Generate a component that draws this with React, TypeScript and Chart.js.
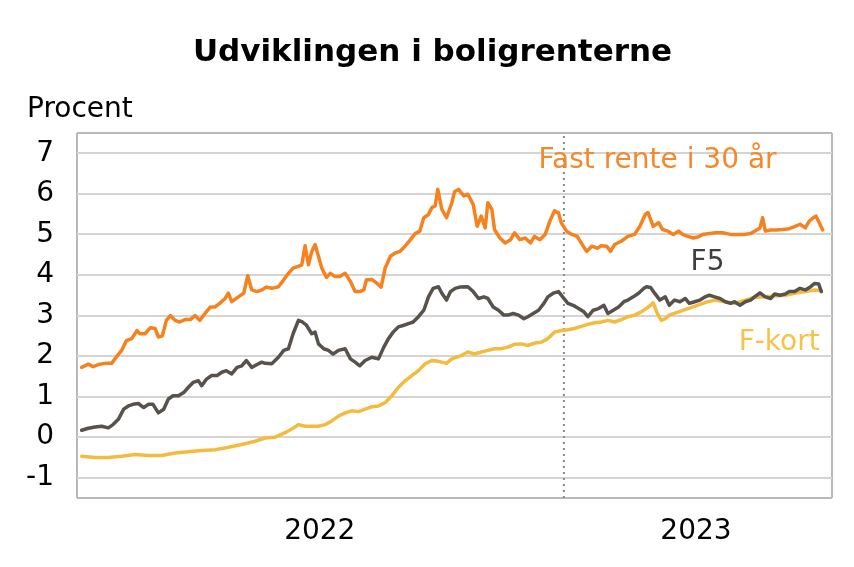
import { useEffect, useRef } from 'react';
import { Chart, registerables } from 'chart.js';

Chart.register(...registerables);
Chart.defaults.font.family = '"DejaVu Sans", sans-serif';

const TITLE = 'Udviklingen i boligrenterne';
const Y_UNIT = 'Procent';
const YEAR_LABELS = ['2022', '2023'];
const YEAR_LABEL_DAYS = [182, 464];
const YEAR_BOUNDARY_DAY = 365;
const X_MIN_DAY = 0;
const X_MAX_DAY = 566;
const Y_TICKS = [-1, 0, 1, 2, 3, 4, 5, 6, 7];
const Y_MIN = -1.5;
const Y_MAX = 7.5;

// Days since 1 Jan 2022
const fastDays = [3.5, 8.5, 12, 16, 21, 26, 30, 33.5, 37, 41, 45, 47, 51, 55, 58.5, 61, 64, 67, 70, 73.5, 77, 81, 85, 88.5, 92, 96, 100, 103.5, 107, 111, 113.5, 116, 121, 125, 128, 131, 135, 138.5, 142, 146, 151, 155, 158.5, 162, 166, 168.5, 171, 173.5, 176, 178.5, 181, 183.5, 187, 190, 193.5, 197, 201, 205, 208.5, 212, 215, 217, 221, 225, 228, 231, 235, 238.5, 242, 246, 250, 253.5, 257, 260, 263.5, 266, 268.5, 270.5, 273.5, 277, 281, 283, 286, 290, 293, 297, 300, 303, 306, 308, 311, 313, 317, 321, 325, 328, 332, 336, 340, 343, 347, 351, 355, 358, 361, 363, 367, 371, 375, 378, 382, 386, 390, 393, 397, 400, 403, 408, 413, 418, 422, 426, 428, 432, 436, 439, 443, 447, 451, 454, 458, 462, 466, 469, 474, 479, 484, 490, 495, 500, 505, 508, 512, 514, 516, 520, 524, 529, 534, 538, 542, 546, 549, 552, 554, 557, 559];
const fastRates = [1.72, 1.8, 1.74, 1.79, 1.82, 1.82, 2.0, 2.14, 2.38, 2.43, 2.63, 2.55, 2.55, 2.7, 2.68, 2.47, 2.5, 2.88, 3.0, 2.88, 2.84, 2.9, 2.9, 3.0, 2.88, 3.05, 3.21, 3.21, 3.3, 3.42, 3.55, 3.34, 3.46, 3.55, 3.98, 3.63, 3.59, 3.63, 3.7, 3.67, 3.71, 3.88, 4.04, 4.17, 4.21, 4.25, 4.72, 4.25, 4.58, 4.75, 4.46, 4.17, 3.94, 4.04, 3.96, 3.96, 4.04, 3.84, 3.59, 3.59, 3.63, 3.88, 3.89, 3.79, 3.7, 4.17, 4.46, 4.54, 4.58, 4.71, 4.87, 5.02, 5.08, 5.41, 5.49, 5.66, 5.7, 6.11, 5.62, 5.41, 5.78, 6.05, 6.11, 5.95, 5.99, 5.74, 5.2, 5.45, 5.16, 5.78, 5.62, 5.12, 4.91, 4.79, 4.87, 5.04, 4.87, 4.91, 4.79, 4.95, 4.87, 5.0, 5.37, 5.58, 5.53, 5.29, 5.08, 5.0, 4.95, 4.79, 4.58, 4.71, 4.66, 4.72, 4.71, 4.58, 4.75, 4.83, 4.95, 5.0, 5.2, 5.49, 5.54, 5.2, 5.29, 5.12, 5.08, 5.0, 5.08, 5.0, 4.95, 4.91, 4.94, 5.0, 5.02, 5.04, 5.04, 5.0, 5.0, 5.0, 5.02, 5.08, 5.16, 5.41, 5.08, 5.11, 5.11, 5.12, 5.14, 5.19, 5.25, 5.16, 5.33, 5.41, 5.45, 5.25, 5.11];

const f5Days = [3.5, 8.5, 13.5, 18.5, 23.5, 27, 31, 35, 38.5, 42, 46, 50, 53.5, 57, 61, 65, 68.5, 72, 76, 80, 83.5, 87, 91, 93.5, 97, 101, 105, 108.5, 112, 116, 120, 123.5, 127, 131, 135, 138.5, 141, 146, 151, 155, 158.5, 162, 166, 169, 172, 176, 178.5, 181, 185, 188.5, 192, 196, 201, 205, 208.5, 212, 216, 221, 226, 230, 233.5, 237, 241, 245, 248.5, 252, 256, 260, 263.5, 267, 271, 273.5, 277, 280, 283.5, 287, 293, 297, 301, 305, 308, 312, 316, 320, 323, 327, 331, 335, 338, 342, 346, 350, 353, 357, 361, 365, 368, 372, 376, 380, 383, 387, 391, 395, 398, 402, 406, 410, 413, 417, 421, 425, 427, 430, 433, 437, 441, 444, 448, 452, 456, 459, 463, 467, 471, 474, 478, 482, 486, 490, 493, 497, 501, 505, 508, 512, 516, 520, 523, 527, 531, 534, 538, 542, 546, 550, 553, 556, 558];
const f5Rates = [0.17, 0.22, 0.25, 0.27, 0.23, 0.31, 0.44, 0.69, 0.77, 0.81, 0.83, 0.73, 0.81, 0.81, 0.6, 0.69, 0.94, 1.02, 1.02, 1.1, 1.23, 1.35, 1.39, 1.27, 1.43, 1.52, 1.52, 1.6, 1.64, 1.56, 1.72, 1.76, 1.89, 1.72, 1.79, 1.85, 1.82, 1.81, 1.97, 2.14, 2.18, 2.55, 2.88, 2.84, 2.76, 2.55, 2.59, 2.3, 2.18, 2.14, 2.05, 2.14, 2.18, 1.93, 1.85, 1.76, 1.89, 1.97, 1.93, 2.22, 2.43, 2.59, 2.72, 2.76, 2.8, 2.84, 2.97, 3.13, 3.46, 3.67, 3.71, 3.55, 3.38, 3.59, 3.67, 3.7, 3.71, 3.59, 3.42, 3.46, 3.42, 3.21, 3.13, 3.01, 3.01, 3.05, 3.01, 2.92, 2.97, 3.05, 3.13, 3.3, 3.46, 3.55, 3.59, 3.42, 3.3, 3.25, 3.17, 3.09, 2.97, 3.13, 3.17, 3.25, 3.05, 3.13, 3.21, 3.34, 3.38, 3.46, 3.55, 3.67, 3.71, 3.69, 3.55, 3.38, 3.46, 3.25, 3.38, 3.34, 3.42, 3.3, 3.34, 3.38, 3.46, 3.5, 3.46, 3.42, 3.34, 3.3, 3.34, 3.25, 3.34, 3.38, 3.46, 3.56, 3.46, 3.42, 3.53, 3.5, 3.53, 3.59, 3.59, 3.67, 3.63, 3.71, 3.79, 3.78, 3.59];

const fkortDays = [3.5, 13.5, 23.5, 33.5, 43.5, 53.5, 63.5, 73.5, 83.5, 93.5, 103.5, 113.5, 123.5, 133.5, 141, 148.5, 156, 162, 166, 171, 176, 181, 186, 191, 196, 201, 206, 211, 216, 221, 226, 231, 236, 241, 246, 251, 256, 261, 266, 271, 277, 281, 288, 293, 298, 303, 308, 313, 318, 323, 328, 333, 338, 343, 348, 353, 358, 363, 368, 373, 378, 383, 388, 393, 398, 403, 408, 413, 418, 423, 428, 432, 435, 438, 441, 444, 451, 458, 466, 473, 478, 486, 493, 501, 508, 516, 523, 531, 538, 546, 553, 558];
const fkortRates = [-0.47, -0.5, -0.5, -0.47, -0.43, -0.45, -0.45, -0.39, -0.36, -0.33, -0.31, -0.25, -0.18, -0.1, -0.02, 0, 0.11, 0.22, 0.31, 0.27, 0.27, 0.27, 0.31, 0.4, 0.52, 0.6, 0.65, 0.63, 0.69, 0.75, 0.77, 0.85, 1.02, 1.23, 1.39, 1.52, 1.64, 1.81, 1.89, 1.87, 1.82, 1.93, 2.01, 2.1, 2.05, 2.1, 2.14, 2.18, 2.18, 2.22, 2.29, 2.3, 2.26, 2.32, 2.34, 2.43, 2.59, 2.63, 2.65, 2.68, 2.73, 2.78, 2.82, 2.84, 2.88, 2.84, 2.9, 2.97, 3.01, 3.09, 3.2, 3.31, 3.05, 2.88, 2.92, 3.01, 3.09, 3.17, 3.26, 3.34, 3.38, 3.34, 3.3, 3.38, 3.45, 3.46, 3.48, 3.5, 3.55, 3.59, 3.63, 3.61];

const SERIES_NAMES = ['Fast rente i 30 år', 'F5', 'F-kort'];
const SERIES_LABEL_DAYS = [346, 460, 496];
const SERIES_LABEL_VALUES = [6.81, 4.31, 2.33];

const ORANGE = '#F5821F';
const GREY = '#57524C';
const YELLOW = '#F4BC3F';
const LABEL_COLORS = ['#F5882A', '#3F3F3F', '#F5C24A'];
const GRID = '#d4d4d4';
const FRAME = '#b9b9b9';

const toPoints = (days: number[], vals: number[]) => days.map((d, i) => ({ x: d, y: vals[i] }));

const labelPlugin = {
  id: 'seriesLabels',
  afterDatasetsDraw(chart: any) {
    const { ctx, chartArea } = chart;
    const x = chart.scales.x;
    const y = chart.scales.y;
    ctx.save();
    ctx.font = '28px "DejaVu Sans", sans-serif';
    ctx.textBaseline = 'middle';
    ctx.textAlign = 'left';
    SERIES_NAMES.forEach((name, i) => {
      ctx.fillStyle = LABEL_COLORS[i];
      ctx.fillText(name, x.getPixelForValue(SERIES_LABEL_DAYS[i]), y.getPixelForValue(SERIES_LABEL_VALUES[i]));
    });
    ctx.fillStyle = '#000';
    ctx.fillText(Y_UNIT, chartArea.left - 50, chartArea.top - 23);
    ctx.restore();
  },
};

export default function App() {
  const ref = useRef<HTMLCanvasElement>(null);
  useEffect(() => {
    document.body.style.margin = '0';
    const lineStyle = { pointRadius: 0, borderWidth: 3.5, tension: 0, borderJoinStyle: 'round' as const, borderCapStyle: 'round' as const };
    const chart = new Chart(ref.current!, {
      type: 'line',
      data: {
        datasets: [
          { label: SERIES_NAMES[1], data: toPoints(f5Days, f5Rates), borderColor: GREY, order: 1, ...lineStyle },
          { label: SERIES_NAMES[2], data: toPoints(fkortDays, fkortRates), borderColor: YELLOW, order: 2, ...lineStyle },
          { label: SERIES_NAMES[0], data: toPoints(fastDays, fastRates), borderColor: ORANGE, order: 3, ...lineStyle },
          {
            label: 'year',
            data: [{ x: YEAR_BOUNDARY_DAY, y: Y_MIN }, { x: YEAR_BOUNDARY_DAY, y: Y_MAX }],
            borderColor: '#8a8a8a',
            borderWidth: 2,
            borderDash: [2, 4],
            pointRadius: 0,
            order: 10,
          },
        ],
      },
      options: {
        animation: false,
        responsive: true,
        maintainAspectRatio: false,
        layout: { padding: { left: 24, right: 13, top: 0, bottom: 0 } },
        plugins: {
          legend: { display: false },
          tooltip: { enabled: false },
          title: {
            display: true,
            text: TITLE,
            color: '#000',
            font: { size: 31, weight: 'bold' },
            padding: { top: 34, bottom: 61.8 },
          },
        },
        scales: {
          x: {
            type: 'linear',
            min: X_MIN_DAY,
            max: X_MAX_DAY,
            afterBuildTicks: (s: any) => {
              s.ticks = [X_MIN_DAY, ...YEAR_LABEL_DAYS, X_MAX_DAY].map((v) => ({ value: v }));
            },
            afterFit: (s: any) => {
              s.height = 69;
            },
            ticks: {
              autoSkip: false,
              maxRotation: 0,
              padding: 17,
              color: '#000',
              font: { size: 28 },
              callback: (v: any) => {
                const i = YEAR_LABEL_DAYS.indexOf(Number(v));
                return i >= 0 ? YEAR_LABELS[i] : '';
              },
            },
            grid: {
              drawTicks: false,
              lineWidth: 2,
              color: (c: any) => (c.tick && (c.tick.value === X_MIN_DAY || c.tick.value === X_MAX_DAY) ? FRAME : 'rgba(0,0,0,0)'),
            },
            border: { display: false },
          },
          y: {
            type: 'linear',
            position: 'left',
            min: Y_MIN,
            max: Y_MAX,
            afterBuildTicks: (s: any) => {
              s.ticks = [Y_MIN, ...Y_TICKS, Y_MAX].map((v) => ({ value: v }));
            },
            afterFit: (s: any) => {
              s.width = 53;
            },
            ticks: {
              autoSkip: false,
              padding: 23,
              color: '#000',
              font: { size: 28 },
              callback: (v: any) => (Y_TICKS.includes(Number(v)) ? String(v) : ''),
            },
            grid: {
              drawTicks: false,
              lineWidth: 2,
              color: (c: any) => (c.tick && (c.tick.value === Y_MIN || c.tick.value === Y_MAX) ? FRAME : GRID),
            },
            border: { display: false },
          },
          yRight: {
            type: 'linear',
            position: 'right',
            min: Y_MIN,
            max: Y_MAX,
            afterFit: (s: any) => {
              s.width = 9;
            },
            ticks: { display: false },
            grid: { display: false, drawTicks: false },
            border: { display: false },
          },
        },
      },
      plugins: [labelPlugin],
    } as any);
    return () => chart.destroy();
  }, []);
  return (
    <div style={{ width: 854, height: 567, position: 'relative', background: '#fff' }}>
      <canvas ref={ref} />
    </div>
  );
}
